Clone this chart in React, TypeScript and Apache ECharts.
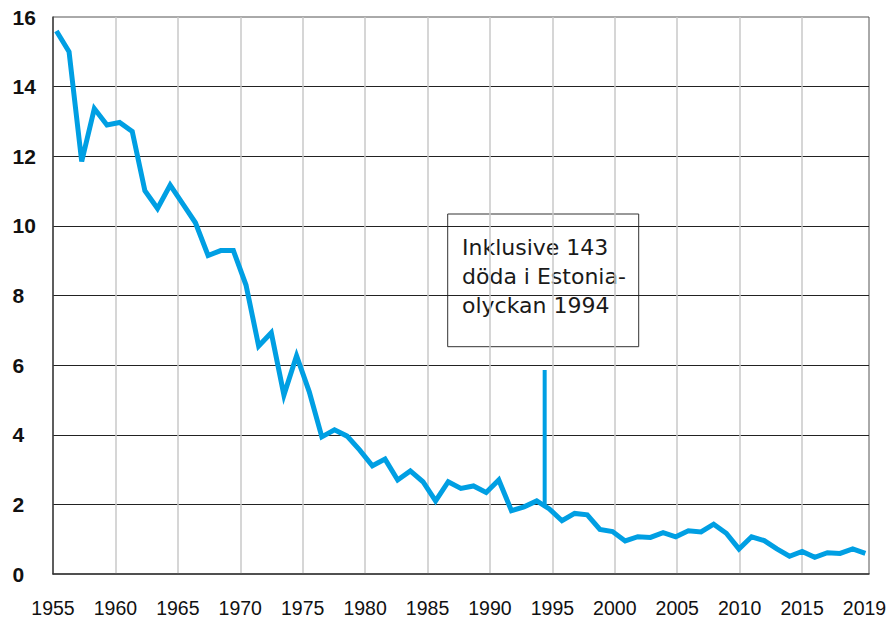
import React, { useEffect, useRef } from 'react';
import * as echarts from 'echarts';

// Years of the series (one point per year)
const YEARS = [
  1955, 1956, 1957, 1958, 1959, 1960, 1961, 1962, 1963, 1964,
  1965, 1966, 1967, 1968, 1969, 1970, 1971, 1972, 1973, 1974,
  1975, 1976, 1977, 1978, 1979, 1980, 1981, 1982, 1983, 1984,
  1985, 1986, 1987, 1988, 1989, 1990, 1991, 1992, 1993, 1994,
  1995, 1996, 1997, 1998, 1999, 2000, 2001, 2002, 2003, 2004,
  2005, 2006, 2007, 2008, 2009, 2010, 2011, 2012, 2013, 2014,
  2015, 2016, 2017, 2018, 2019,
];

// Values
const VALUES = [
  15.6, 15.0, 11.85, 13.37, 12.9, 12.97, 12.71, 11.01, 10.5, 11.17,
  10.63, 10.09, 9.15, 9.29, 9.29, 8.3, 6.55, 6.93, 5.14, 6.27,
  5.24, 3.94, 4.14, 3.96, 3.56, 3.11, 3.3, 2.7, 2.96, 2.65,
  2.1, 2.65, 2.46, 2.53, 2.34, 2.7, 1.82, 1.93, 2.1, 1.87,
  1.53, 1.74, 1.7, 1.28, 1.22, 0.95, 1.07, 1.05, 1.19, 1.07,
  1.24, 1.21, 1.43, 1.17, 0.72, 1.07, 0.96, 0.72, 0.51, 0.65,
  0.48, 0.61, 0.59, 0.72, 0.59,
];

// Estonia disaster spike (1994, incl. 143 deaths)
const ESTONIA_X = [1993.63, 1993.63];
const ESTONIA_Y = [1.98, 5.86];

// Axis tick labels
const X_TICK_VALUES = [1955, 1960, 1965, 1970, 1975, 1980, 1985, 1990, 1995, 2000, 2005, 2010, 2015, 2020];
const X_TICK_LABELS = ['1955', '1960', '1965', '1970', '1975', '1980', '1985', '1990', '1995', '2000', '2005', '2010', '2015', '2019'];

const ANNOTATION = 'Inklusive 143\ndöda i Estonia-\nolyckan 1994';

export default function App() {
  const ref = useRef<HTMLDivElement>(null);

  useEffect(() => {
    if (!ref.current) return;
    const chart = echarts.init(ref.current, undefined, { renderer: 'svg' });

    const lineData = YEARS.map((y, i) => [y, VALUES[i]]);
    const spikeData = ESTONIA_X.map((x, i) => [x, ESTONIA_Y[i]]);

    const vColors = ['#c8c8c8', '#c8c8c8', '#c8c8c8', '#c8c8c8', '#c8c8c8', '#c8c8c8', '#c8c8c8', '#c8c8c8', '#c8c8c8', '#c8c8c8', '#c8c8c8', '#c8c8c8', 'rgba(0,0,0,0)'];

    chart.setOption({
      animation: false,
      backgroundColor: '#ffffff',
      grid: {
        left: 53,
        top: 17,
        width: 816,
        height: 557,
        show: true,
        borderColor: '#555',
        borderWidth: 1,
        backgroundColor: 'transparent',
      },
      xAxis: [
        {
          type: 'value',
          min: 1955,
          max: 2020.36,
          interval: 5,
          axisLine: { show: true, lineStyle: { color: '#333', width: 1.5 } },
          axisTick: { show: false },
          splitLine: {
            show: true,
            showMinLine: false,
            showMaxLine: false,
            lineStyle: { color: vColors, width: 1.5 },
          },
          axisLabel: {
            margin: 34,
            verticalAlign: 'middle',
            fontFamily: '"Liberation Sans", Arial, sans-serif',
            fontSize: 19.5,
            color: '#111',
            showMaxLabel: false,
            formatter: (v: number) => {
              const idx = X_TICK_VALUES.indexOf(Math.round(v * 100) / 100);
              return idx >= 0 ? X_TICK_LABELS[idx] : '';
            },
          },
        },
        {
          type: 'value',
          min: 1954.73,
          max: 2019.29,
          show: false,
        },
      ],
      yAxis: {
        type: 'value',
        min: 0,
        max: 16,
        interval: 2,
        axisLine: { show: true, lineStyle: { color: '#444', width: 1.5 } },
        axisTick: { show: false },
        splitLine: {
          show: true,
          showMinLine: false,
          showMaxLine: false,
          lineStyle: { color: '#222', width: 1 },
        },
        axisLabel: {
          align: 'left',
          margin: 40.5,
          verticalAlign: 'middle',
          padding: [15, 0, 0, 0],
          fontFamily: '"Liberation Sans", Arial, sans-serif',
          fontWeight: 'bold',
          fontSize: 21,
          color: '#111',
        },
      },
      series: [
        {
          type: 'line',
          xAxisIndex: 1,
          data: lineData,
          symbol: 'none',
          z: 3,
          lineStyle: { color: '#009fe3', width: 5, join: 'miter', cap: 'butt' },
        },
        {
          type: 'line',
          xAxisIndex: 1,
          data: spikeData,
          symbol: 'none',
          z: 3,
          lineStyle: { color: '#009fe3', width: 4, cap: 'butt' },
        },
      ],
      graphic: [
        {
          type: 'group',
          z: 10,
          children: [
            {
              type: 'rect',
              shape: { x: 447.7, y: 214, width: 191, height: 132.7 },
              style: { fill: '#fff', stroke: '#333', lineWidth: 1 },
            },
            {
              type: 'text',
              x: 462,
              y: 233.6,
              style: {
                text: ANNOTATION,
                font: '22px "DejaVu Sans", sans-serif',
                lineHeight: 28.7,
                fill: '#1a1a1a',
                verticalAlign: 'top',
                align: 'left',
              },
            },
          ],
        },
      ],
    });

    return () => chart.dispose();
  }, []);

  return (
    <div
      ref={ref}
      style={{ position: 'fixed', left: 0, top: 0, width: 890, height: 618, background: '#fff' }}
    />
  );
}
